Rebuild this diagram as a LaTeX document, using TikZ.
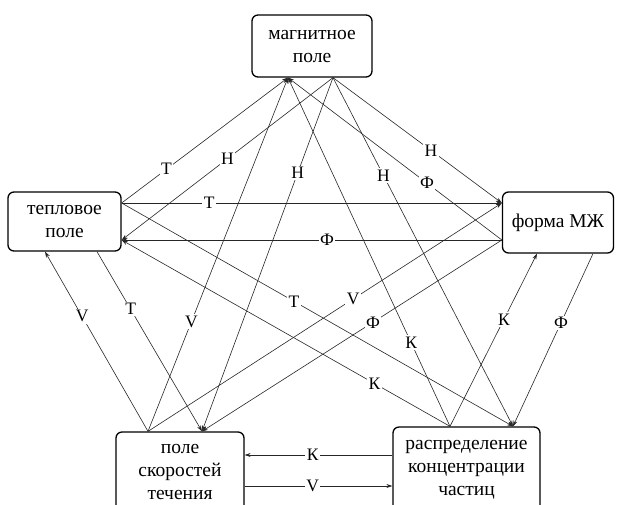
\documentclass[tikz,border=0pt]{standalone}
\usepackage{fontspec}
\setmainfont{Liberation Serif}
\usetikzlibrary{arrows.meta, calc}

\begin{document}
\begin{tikzpicture}[x=1pt, y=-1pt, >={Stealth[length=6pt,width=4pt]},
    box/.style={draw, line width=1.3pt, rounded corners=6pt, align=center, inner sep=1pt,
        font=\fontsize{19.5}{23}\selectfont},
    lnk/.style={->, line width=0.6pt, draw=black!85},
    lbl/.style={fill=white, inner sep=1.5pt, font=\fontsize{17.5}{17.5}\selectfont}
]
    \useasboundingbox (0,0) rectangle (620,504);
    % fields
    \node[box, minimum width=120pt, minimum height=62pt] (magn) at (312,46) {магнитное\\поле};
    \node[box, minimum width=113pt, minimum height=59pt] (teplo) at (64.5,221.5) {тепловое\\поле};
    \node[box, minimum width=111pt, minimum height=61pt] (forma) at (558,222.5) {форма МЖ};
    \node[box, minimum width=128pt, minimum height=80pt] (skor) at (180,472) {поле\\скоростей\\течения};
    \node[box, minimum width=147pt, minimum height=86pt] (raspr) at (466.5,470) {распределение\\концентрации\\частиц};
    % attach points
    \coordinate (magn-in) at ($(magn.south)+(-24,0)$);
    \coordinate (magn-out) at ($(magn.south)+(21,0)$);
    \coordinate (teplo-out) at ($(teplo.east)+(0,-18.5)$);
    \coordinate (teplo-in) at ($(teplo.east)+(0,18.5)$);
    \coordinate (teplo-up) at ($(teplo.south)+(-19.5,0)$);
    \coordinate (teplo-down) at ($(teplo.south)+(32.5,0)$);
    \coordinate (forma-in) at ($(forma.west)+(0,-19.5)$);
    \coordinate (forma-out) at ($(forma.west)+(0,17.5)$);
    \coordinate (forma-up) at ($(forma.south)+(-21,0)$);
    \coordinate (forma-down) at ($(forma.south)+(35,0)$);
    \coordinate (skor-out) at ($(skor.north)+(-32,0)$);
    \coordinate (skor-in) at ($(skor.north)+(22,0)$);
    \coordinate (skor-k) at ($(skor.east)+(0,-17)$);
    \coordinate (skor-v) at ($(skor.east)+(0,14)$);
    \coordinate (raspr-out) at ($(raspr.north)+(-16.5,0)$);
    \coordinate (raspr-in) at ($(raspr.north)+(46.5,0)$);
    \coordinate (raspr-k) at ($(raspr.west)+(0,-15)$);
    \coordinate (raspr-v) at ($(raspr.west)+(0,16)$);
    % links
    \draw[lnk] (teplo-out) -- node[lbl, pos=0.27] {T} (magn-in);
    \draw[lnk] (magn-out) -- node[lbl, pos=0.5] {H} (teplo-in);
    \draw[lnk] (teplo-out) -- node[lbl, pos=0.23] {T} (forma-in);
    \draw[lnk] (forma-out) -- node[lbl, pos=0.46] {Ф} (teplo-in);
    \draw[lnk] (teplo-down) -- node[lbl, pos=0.32] {T} (skor-in);
    \draw[lnk] (skor-out) -- node[lbl, pos=0.64] {V} (teplo-up);
    \draw[lnk] (magn-out) -- node[lbl, pos=0.27] {H} (skor-in);
    \draw[lnk] (skor-out) -- node[lbl, pos=0.31] {V} (magn-in);
    \draw[lnk] (raspr-out) -- node[lbl, pos=0.24] {К} (magn-in);
    \draw[lnk] (magn-out) -- node[lbl, pos=0.28] {H} (raspr-in);
    \draw[lnk] (magn-out) -- node[lbl, pos=0.58] {H} (forma-in);
    \draw[lnk] (forma-out) -- node[lbl, pos=0.35] {Ф} (magn-in);
    \draw[lnk] (teplo-out) -- node[lbl, pos=0.44] {T} (raspr-in);
    \draw[lnk] (raspr-out) -- node[lbl, pos=0.23] {К} (teplo-in);
    \draw[lnk] (skor-out) -- node[lbl, pos=0.58] {V} (forma-in);
    \draw[lnk] (forma-out) -- node[lbl, pos=0.43] {Ф} (skor-in);
    \draw[lnk] (raspr-out) -- node[lbl, pos=0.62] {К} (forma-up);
    \draw[lnk] (forma-down) -- node[lbl, pos=0.40] {Ф} (raspr-in);
    \draw[lnk] (raspr-k) -- node[lbl, pos=0.54] {К} (skor-k);
    \draw[lnk] (skor-v) -- node[lbl, pos=0.46] {V} (raspr-v);
\end{tikzpicture}
\end{document}
